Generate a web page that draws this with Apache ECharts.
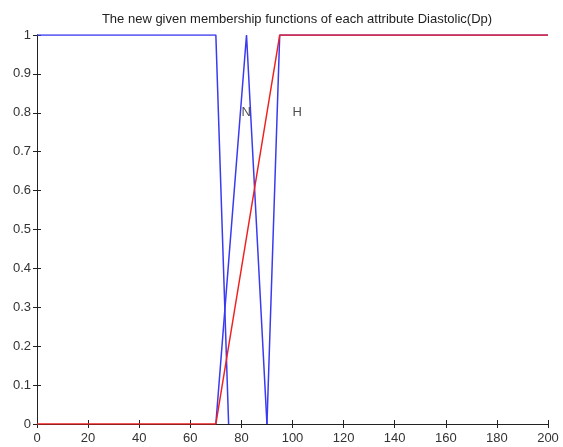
<!DOCTYPE html>
<html>
<head>
<meta charset="utf-8">
<script src="https://cdn.jsdelivr.net/npm/echarts@6/dist/echarts.min.js"></script>
<style>
html,body{margin:0;padding:0;background:#fff;}
#main{width:563px;height:447px;}
</style>
</head>
<body>
<div id="main"></div>
<script>
// membership functions (x, membership)
var lowPts = [[0, 1], [70, 1], [75, 0]];
var normalPts = [[70, 0], [82, 1], [90, 0]];
var highPts = [[90, 0], [95, 1], [200, 1]];
var redPts = [[0, 0], [70, 0], [95, 1], [200, 1]];
var labelPts = [[80, 0.8, 'N'], [100, 0.8, 'H']];

var blue = '#3a3af0';
var red = '#f02020';
var font = {fontFamily: 'Liberation Sans, Arial, sans-serif', fontSize: 13, color: '#333'};

function lineSeries(pts, color, z) {
    return {
        type: 'line',
        data: pts,
        symbol: 'none',
        z: z,
        lineStyle: {color: color, width: 1.5},
        animation: false
    };
}

var boxAxis = {
    axisLine: {show: true, lineStyle: {color: '#222', width: 1}},
    axisTick: {show: true, inside: true, length: 4, lineStyle: {color: '#222'}},
    splitLine: {show: false}
};

var myChart = echarts.init(document.getElementById('main'));
myChart.setOption({
    backgroundColor: '#fff',
    title: {
        text: 'The new given membership functions of each attribute Diastolic(Dp)',
        left: 292,
        textAlign: 'center',
        top: 8,
        textStyle: {fontFamily: font.fontFamily, fontSize: 13, fontWeight: 'normal', color: '#222'}
    },
    grid: {left: 37, right: 15, top: 35, bottom: 23},
    xAxis: [
        Object.assign({type: 'value', min: 0, max: 200, interval: 20, position: 'bottom',
            axisLabel: Object.assign({margin: 8}, font)}, boxAxis),
        Object.assign({type: 'value', min: 0, max: 200, interval: 20, position: 'top',
            axisLabel: {show: false}}, boxAxis)
    ],
    yAxis: [
        Object.assign({type: 'value', min: 0, max: 1, interval: 0.1, position: 'left',
            axisLabel: Object.assign({margin: 6, formatter: function (v) {
                return String(Math.round(v * 10) / 10);
            }}, font)}, boxAxis),
        Object.assign({type: 'value', min: 0, max: 1, interval: 0.1, position: 'right',
            axisLabel: {show: false}}, boxAxis)
    ],
    series: [
        lineSeries(lowPts, blue, 2),
        lineSeries(normalPts, blue, 2),
        lineSeries(highPts, blue, 2),
        lineSeries(redPts, red, 3),
        {
            type: 'scatter',
            data: labelPts,
            symbolSize: 0,
            z: 4,
            animation: false,
            label: {
                show: true,
                position: 'right',
                distance: 0,
                formatter: function (p) { return p.data[2]; },
                fontFamily: font.fontFamily,
                fontSize: 13,
                color: '#222'
            }
        }
    ]
});
</script>
</body>
</html>
